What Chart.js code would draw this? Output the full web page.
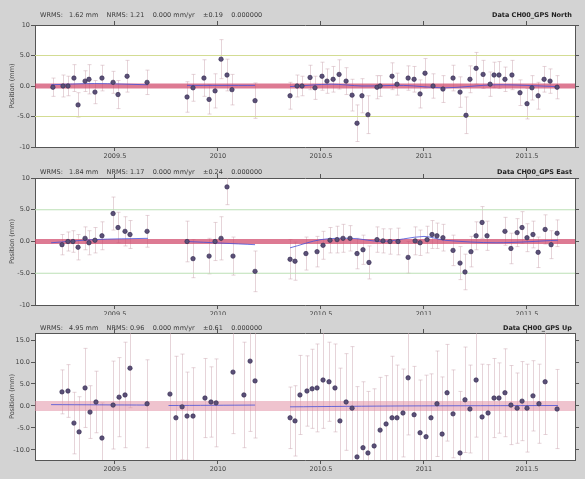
<!DOCTYPE html>
<html><head><meta charset="utf-8">
<script src="https://cdn.jsdelivr.net/npm/chart.js@4.4.1/dist/chart.umd.min.js"></script>
<style>
html,body{margin:0;padding:0;background:#d3d3d3;}
body{width:585px;height:479px;position:relative;overflow:hidden;font-family:"DejaVu Sans",sans-serif;}
canvas{position:absolute;left:0;}
</style></head>
<body>
<canvas id="c1" width="585" height="160" style="top:0px"></canvas>
<canvas id="c2" width="585" height="155" style="top:160px"></canvas>
<canvas id="c3" width="585" height="164" style="top:315px"></canvas>
<script>
// ---------------- data ----------------
const xMin = 2009.112, xMax = 2011.733;
const xTicks = [2009.5, 2010, 2010.5, 2011, 2011.5];
const xTickLabels = ['2009.5', '2010', '2010.5', '2011', '2011.5'];

const panelTitles = ['Data CH00_GPS North', 'Data CH00_GPS East', 'Data CH00_GPS Up'];
const panelStats = [
  'WRMS:   1.62 mm    NRMS: 1.21    0.000 mm/yr    ±0.19    0.000000',
  'WRMS:   1.84 mm    NRMS: 1.17    0.000 mm/yr    ±0.24    0.000000',
  'WRMS:   4.95 mm    NRMS: 0.96    0.000 mm/yr    ±0.61    0.000000'
];
const yAxisTitle = 'Position (mm)';

const neYTicks = [-10, -5, 0, 5, 10];
const neYTickLabels = ['-10', '-5.0', '0.0', '5.0', '10'];
const upYTicks = [-10, -5, 0, 5, 10, 15];
const upYTickLabels = ['-10.0', '-5.0', '0.0', '5.0', '10.0', '15.0'];
const neRange = [-10, 10];
const upRange = [-12.3, 16.6];
const limitLines = [5, -5];

const northT = [2009.199,2009.248,2009.272,2009.301,2009.321,2009.355,2009.374,2009.403,2009.437,2009.491,
  2009.515,2009.559,2009.656,2009.850,2009.879,2009.932,2009.957,2009.986,2010.015,2010.044,
  2010.068,2010.180,2010.350,2010.384,2010.408,2010.447,2010.471,2010.505,2010.529,2010.559,
  2010.588,2010.622,2010.651,2010.675,2010.699,2010.728,2010.772,2010.787,2010.845,2010.869,
  2010.923,2010.952,2010.981,2011.005,2011.044,2011.092,2011.141,2011.175,2011.204,2011.223,
  2011.253,2011.287,2011.321,2011.340,2011.364,2011.393,2011.427,2011.466,2011.500,2011.524,
  2011.554,2011.583,2011.612,2011.646];
const northV = [-0.2,0.0,0.0,1.3,-3.1,0.8,1.1,-1.0,1.3,0.6,
  -1.4,1.6,0.6,-1.8,-0.3,1.3,-2.2,-0.8,4.4,1.8,
  -0.6,-2.4,-1.6,0.0,0.0,1.4,-0.3,1.6,0.8,1.1,
  1.9,0.8,-1.5,-6.1,-1.6,-4.7,-0.2,0.0,1.6,0.3,
  1.3,1.1,-1.3,2.1,0.0,-0.5,1.3,-1.0,-4.8,1.1,
  2.9,1.9,0.3,1.8,1.8,1.1,1.8,-1.1,-2.9,-0.3,
  -1.6,1.1,0.8,-0.2];
const northE = [1.5,1.8,1.6,2.2,2.0,1.7,2.4,1.9,2.1,1.8,
  2.3,2.6,2.0,2.5,2.2,3.0,2.4,2.8,3.2,2.6,
  2.5,2.9,2.2,1.8,1.6,2.0,1.9,2.3,2.0,2.1,
  2.4,2.2,2.6,3.0,2.8,3.1,1.9,1.7,2.2,1.8,
  2.0,2.1,2.3,2.4,2.0,2.2,2.1,2.5,3.0,2.2,
  2.6,2.3,2.0,2.1,2.2,2.0,2.4,2.1,2.5,2.0,
  2.2,2.1,2.0,1.9];
const northModelT = [2009.19,2009.40,2009.66,null,2009.85,2010.18,null,2010.35,2010.55,2010.70,2010.90,2011.10,2011.35,2011.65];
const northModelV = [0.2,0.4,0.2,null,0.1,0.1,null,-0.1,0.3,0.0,0.1,-0.3,0.2,-0.1];

const eastT = [2009.243,2009.272,2009.296,2009.321,2009.355,2009.374,2009.403,2009.437,2009.491,2009.515,
  2009.549,2009.573,2009.656,2009.850,2009.879,2009.957,2009.986,2010.015,2010.044,2010.073,
  2010.180,2010.350,2010.374,2010.427,2010.481,2010.510,2010.544,2010.578,2010.607,2010.641,
  2010.675,2010.704,2010.733,2010.772,2010.801,2010.835,2010.874,2010.923,2010.957,2010.981,
  2011.015,2011.039,2011.063,2011.092,2011.141,2011.175,2011.199,2011.228,2011.253,2011.282,
  2011.306,2011.393,2011.422,2011.452,2011.476,2011.500,2011.529,2011.554,2011.588,2011.617,
  2011.646];
const eastV = [-0.5,0.0,0.0,-0.9,0.5,-0.2,0.2,0.9,4.4,2.2,
  1.6,1.1,1.6,0.0,-2.7,-2.3,0.0,0.5,8.6,-2.3,
  -4.7,-2.8,-3.1,-1.9,-1.6,-0.6,0.2,0.3,0.5,0.5,
  -1.9,-1.3,-3.3,0.3,0.1,0.0,0.0,-2.5,0.1,-0.2,
  0.3,1.1,0.9,0.6,-1.4,-3.4,-4.8,-1.6,0.9,3.0,
  0.9,1.6,-1.1,1.4,2.2,0.6,1.1,-1.7,1.9,-0.5,
  1.3];
const eastE = [1.6,1.5,1.7,2.0,1.8,1.9,2.0,2.2,2.6,2.4,
  2.3,2.2,2.5,3.2,3.0,2.8,3.0,3.4,2.8,3.0,
  3.2,3.1,3.0,2.6,2.4,2.2,2.0,2.1,2.2,2.0,
  2.4,2.3,2.6,2.0,1.9,2.0,2.1,2.5,2.2,2.0,
  2.1,2.2,2.0,2.1,2.4,2.6,2.8,2.4,2.2,2.5,
  2.3,2.2,2.4,2.2,2.5,2.2,2.1,2.4,2.3,2.2,
  2.1];
const eastModelT = [2009.19,2009.40,2009.66,null,2009.85,2010.18,null,2010.35,2010.50,2010.65,2010.80,2011.00,2011.10,2011.35,2011.65];
const eastModelV = [-0.2,0.3,0.5,null,0.0,-0.5,null,-1.0,0.3,0.5,0.0,0.8,0.2,-0.2,0.2];

const upT = [2009.243,2009.272,2009.301,2009.326,2009.355,2009.379,2009.408,2009.437,2009.491,2009.520,
  2009.549,2009.573,2009.656,2009.767,2009.796,2009.826,2009.850,2009.879,2009.937,2009.966,
  2009.991,2010.073,2010.126,2010.156,2010.180,2010.350,2010.374,2010.398,2010.432,2010.457,
  2010.481,2010.510,2010.539,2010.568,2010.592,2010.622,2010.651,2010.675,2010.704,2010.728,
  2010.758,2010.787,2010.816,2010.845,2010.869,2010.898,2010.923,2010.952,2010.981,2011.010,
  2011.034,2011.063,2011.088,2011.112,2011.141,2011.175,2011.199,2011.223,2011.253,2011.282,
  2011.311,2011.340,2011.364,2011.393,2011.422,2011.452,2011.476,2011.500,2011.529,2011.558,
  2011.588,2011.646];
const upV = [3.2,3.4,-3.9,-5.9,4.1,-1.4,0.9,-7.3,0.2,2.0,
  2.5,8.6,0.5,2.7,-2.7,-0.2,-2.3,-2.3,1.8,0.9,
  0.7,7.7,2.5,10.2,5.7,-2.7,-3.4,2.5,3.4,3.9,
  4.1,5.9,5.5,4.1,-3.4,0.9,-0.5,-11.6,-9.5,-10.7,
  -9.1,-5.5,-4.1,-2.7,-2.7,-1.6,6.4,-2.0,-6.1,-7.0,
  -2.7,0.5,-6.4,3.0,-1.8,-10.7,1.4,-0.7,5.9,-2.5,
  -1.6,1.8,1.8,3.0,0.2,-0.5,1.1,-0.5,2.3,0.5,
  5.5,-0.7];
const upE = [5,6,7,8,9,6,7,8,10,9,
  12,9,10,16,14,12,10,11,9,8,
  10,14,12,16,13,7,8,9,8,9,
  10,11,9,10,12,11,14,16,15,14,
  13,12,11,14,12,10,13,11,12,14,
  10,12,13,11,10,14,12,10,13,12,
  11,9,8,10,9,8,9,10,8,9,
  12,9];
const upModelT = [2009.19,2009.66,null,2009.76,2010.18,null,2010.35,2010.90,2011.65];
const upModelV = [0.3,0.2,null,0.1,0.2,null,-0.2,0.0,0.1];

// ---------------- styles / layout ----------------
const panelLayouts = [
  { id: 'c1', H: 160, top: 25, bottom: 147, headerY: 15, limitColor: '#d3dc93', zeroWidth: 5, zeroColor: 'rgba(208,70,105,0.72)' },
  { id: 'c2', H: 155, top: 18, bottom: 145, headerY: 12, limitColor: '#bde0b6', zeroWidth: 5, zeroColor: 'rgba(208,70,105,0.72)' },
  { id: 'c3', H: 164, top: 18, bottom: 145, headerY: 13, limitColor: null, zeroWidth: 10, zeroColor: 'rgba(226,145,165,0.55)' }
];
const plotLeft = 35, plotRight = 575, padLeft = 8;

function pts(t, v) { return t.map((x, i) => (x === null ? { x: NaN, y: null } : { x: x, y: v[i] })); }

const errorBarPlugin = {
  id: 'errbars',
  beforeDatasetsDraw(chart) {
    const eb = chart.options.plugins.errbars;
    if (!eb) return;
    const { ctx, chartArea: a, scales } = chart;
    ctx.save();
    ctx.beginPath(); ctx.rect(a.left, a.top, a.width, a.height); ctx.clip();
    ctx.strokeStyle = 'rgba(205,170,180,0.5)';
    ctx.lineWidth = 1;
    eb.t.forEach((t, i) => {
      const px = Math.round(scales.x.getPixelForValue(t)) + 0.5;
      const y1 = scales.y.getPixelForValue(eb.v[i] + eb.e[i]);
      const y2 = scales.y.getPixelForValue(eb.v[i] - eb.e[i]);
      ctx.beginPath();
      ctx.moveTo(px, y1); ctx.lineTo(px, y2);
      ctx.moveTo(px - 2, y1); ctx.lineTo(px + 2, y1);
      ctx.moveTo(px - 2, y2); ctx.lineTo(px + 2, y2);
      ctx.stroke();
    });
    ctx.restore();
  }
};

const bgPlugin = {
  id: 'bgArea',
  beforeDraw(chart) {
    const { ctx, chartArea: a } = chart;
    ctx.save();
    ctx.fillStyle = '#ffffff';
    ctx.fillRect(a.left, a.top, a.width, a.height);
    ctx.restore();
  },
  afterDraw(chart) {
    const h = chart.options.plugins.bgArea;
    const { ctx } = chart;
    ctx.save();
    ctx.textBaseline = 'middle';
    ctx.fillStyle = '#3a3a3a';
    ctx.font = '6.5px "DejaVu Sans", sans-serif';
    ctx.textAlign = 'left';
    ctx.fillText(h.stats, 40, h.y);
    ctx.font = 'bold 6.5px "DejaVu Sans", sans-serif';
    ctx.fillStyle = '#222';
    ctx.textAlign = 'right';
    ctx.fillText(h.title, 572, h.y);
    ctx.restore();
  }
};

function makePanel(k, t, v, e, mt, mv, yRange, yTicks, yLabels) {
  const L = panelLayouts[k];
  const datasets = [];
  if (L.limitColor) {
    limitLines.forEach(lv => datasets.push({
      type: 'line', data: [{ x: xMin, y: lv }, { x: xMax, y: lv }],
      borderColor: L.limitColor, borderWidth: 1.2, pointRadius: 0, order: 5
    }));
  }
  datasets.push({
    type: 'line', data: [{ x: xMin, y: 0 }, { x: xMax, y: 0 }],
    borderColor: L.zeroColor, borderWidth: L.zeroWidth, pointRadius: 0, order: 4
  });
  datasets.push({
    type: 'line', data: pts(mt, mv), spanGaps: false,
    borderColor: 'rgba(70,80,215,0.8)', borderWidth: 1, pointRadius: 0, order: 3, tension: 0.3
  });
  datasets.push({
    type: 'scatter', data: pts(t, v),
    backgroundColor: '#5b5078', borderColor: '#3a3055', borderWidth: 0.7,
    pointRadius: 2.2, order: 1
  });

  const tickFont = { size: 6.5, family: '"DejaVu Sans", sans-serif' };
  const gridCommon = { drawOnChartArea: false, tickLength: 4, color: '#555' };
  const border = { display: true, color: '#555', width: 1 };
  const setTicks = (vals) => (s) => { s.ticks = vals.map(x => ({ value: x })); };

  new Chart(document.getElementById(L.id), {
    type: 'scatter',
    data: { datasets },
    options: {
      responsive: false, animation: false, devicePixelRatio: 1,
      layout: { padding: { left: padLeft, right: 0, top: 0, bottom: 0 } },
      plugins: {
        legend: { display: false }, tooltip: { enabled: false },
        errbars: { t, v, e },
        bgArea: { title: panelTitles[k], stats: panelStats[k], y: L.headerY }
      },
      scales: {
        x: {
          type: 'linear', position: 'bottom', min: xMin, max: xMax,
          afterBuildTicks: setTicks(xTicks),
          afterFit: (s) => { s.height = L.H - L.bottom; },
          ticks: { font: tickFont, color: '#444', padding: 1, maxRotation: 0,
            callback: (val) => { const i = xTicks.indexOf(val); return i >= 0 ? xTickLabels[i] : ''; } },
          grid: gridCommon, border
        },
        x2: {
          type: 'linear', position: 'top', min: xMin, max: xMax,
          afterBuildTicks: setTicks(xTicks),
          afterFit: (s) => { s.height = L.top; },
          ticks: { display: false },
          grid: gridCommon, border
        },
        y: {
          type: 'linear', position: 'left', min: yRange[0], max: yRange[1],
          afterBuildTicks: setTicks(yTicks),
          afterFit: (s) => { s.width = plotLeft - padLeft; },
          ticks: { font: tickFont, color: '#444', padding: 1,
            callback: (val) => { const i = yTicks.indexOf(val); return i >= 0 ? yLabels[i] : ''; } },
          title: { display: true, text: yAxisTitle, color: '#444', padding: 0,
            font: { size: 6.5, family: '"DejaVu Sans", sans-serif' } },
          grid: gridCommon, border
        },
        y2: {
          type: 'linear', position: 'right', min: yRange[0], max: yRange[1],
          afterBuildTicks: setTicks(yTicks),
          afterFit: (s) => { s.width = 585 - plotRight; },
          ticks: { display: false },
          grid: gridCommon, border
        }
      }
    },
    plugins: [bgPlugin, errorBarPlugin]
  });
}

makePanel(0, northT, northV, northE, northModelT, northModelV, neRange, neYTicks, neYTickLabels);
makePanel(1, eastT, eastV, eastE, eastModelT, eastModelV, neRange, neYTicks, neYTickLabels);
makePanel(2, upT, upV, upE, upModelT, upModelV, upRange, upYTicks, upYTickLabels);
</script>
</body></html>
